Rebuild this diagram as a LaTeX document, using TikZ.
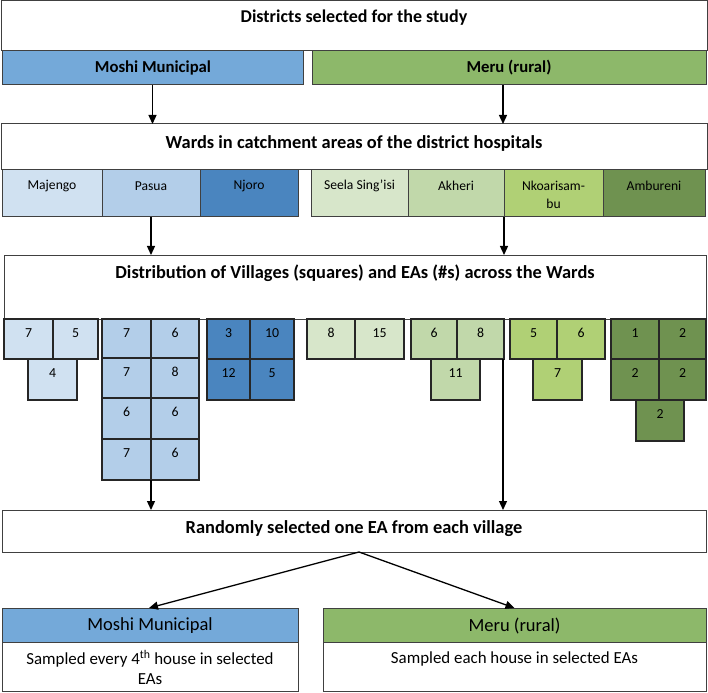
\documentclass[tikz,border=0pt]{standalone}
\usepackage{fontspec}
\setmainfont{Carlito}
\usetikzlibrary{arrows.meta}
\definecolor{mblue}{HTML}{74A9D9}
\definecolor{mgreen}{HTML}{8DB86A}
\definecolor{wmaj}{HTML}{D0E1F1}
\definecolor{wpas}{HTML}{B3CEE9}
\definecolor{wnjo}{HTML}{4A85BF}
\definecolor{wsee}{HTML}{D7E6CA}
\definecolor{wakh}{HTML}{C1D8AA}
\definecolor{wnko}{HTML}{B0D075}
\definecolor{wamb}{HTML}{6F9250}
\definecolor{bord}{HTML}{404040}
\newcommand\rbox[6]{\node[#6, minimum width={#4-#2}, minimum height={#5-#3}] (#1) at ({(#2+#4)/2},{(#3+#5)/2}) {};}
\newcommand\sq[7]{\rbox{#1}{#2}{#3}{#4}{#5}{cell,fill=#6}\node[num] (#1t) at ({(#2+#4)/2},{#3+14}) {#7};}
\begin{document}
\begin{tikzpicture}[x=1pt,y=-1pt,
  box/.style={draw=bord, line width=1pt, inner sep=0pt, outer sep=0pt},
  cell/.style={draw=black!85, line width=1.2pt, inner sep=0pt, outer sep=0pt},
  h1/.style={font=\bfseries\fontsize{18}{21}\selectfont, inner sep=0pt},
  h3/.style={font=\bfseries\fontsize{18.4}{21}\selectfont, inner sep=0pt},
  h2/.style={font=\bfseries\fontsize{16.7}{20}\selectfont, inner sep=0pt},
  h4/.style={font=\fontsize{18.5}{22}\selectfont, inner sep=0pt},
  wn/.style={font=\fontsize{13.6}{18}\selectfont, inner sep=0pt, align=center},
  num/.style={font=\fontsize{13.8}{16}\selectfont, inner sep=0pt},
  body/.style={font=\fontsize{16.9}{20}\selectfont, inner sep=0pt},
  arr/.style={-{Triangle[length=9pt,width=8pt]}, line width=1.3pt, black}]
\useasboundingbox (0,0) rectangle (708,692);
% districts
\rbox{top}{1}{1}{707}{51}{box}
\node[h1] (topt) at (354,18) {Districts selected for the study};
\rbox{dm}{2}{51}{303}{85}{box,fill=mblue}
\node[h2] (dmt) at (153,68) {Moshi Municipal};
\rbox{dr}{312}{51}{706}{85}{box,fill=mgreen}
\node[h2] (drt) at (509,68) {Meru (rural)};
% wards
\rbox{wt}{1}{124}{707}{170}{box}
\node[h3] (wtt) at (354,143) {Wards in catchment areas of the district hospitals};
\rbox{w1}{2}{170}{102}{217}{box,fill=wmaj}
\node[wn] (w1t) at (52,186) {Majengo};
\rbox{w2}{102}{170}{200}{217}{box,fill=wpas}
\node[wn] (w2t) at (151,186) {Pasua};
\rbox{w3}{200}{170}{298}{217}{box,fill=wnjo}
\node[wn] (w3t) at (249,186) {Njoro};
\rbox{w4}{311}{170}{408}{217}{box,fill=wsee}
\node[wn] (w4t) at (359.5,186) {Seela Sing’isi};
\rbox{w5}{408}{170}{504}{217}{box,fill=wakh}
\node[wn] (w5t) at (456,186) {Akheri};
\rbox{w6}{504}{170}{603}{217}{box,fill=wnko}
\node[wn] (w6t) at (553.5,195) {Nkoarisam-\\bu};
\rbox{w7}{603}{170}{705}{217}{box,fill=wamb}
\node[wn] (w7t) at (654,186) {Ambureni};
% distribution
\rbox{dist}{4}{255}{706}{319}{box}
\node[h3] (distt) at (355,273) {Distribution of Villages (squares) and EAs (\#s) across the Wards};
% squares
\sq{m1}{4}{319}{53}{359}{wmaj}{7}
\sq{m2}{53}{319}{98}{359}{wmaj}{5}
\sq{m3}{28}{359}{77}{400}{wmaj}{4}
\sq{p1}{102}{319}{151}{358}{wpas}{7}
\sq{p2}{151}{319}{199}{358}{wpas}{6}
\sq{p3}{102}{358}{151}{398}{wpas}{7}
\sq{p4}{151}{358}{199}{398}{wpas}{8}
\sq{p5}{102}{398}{151}{439}{wpas}{6}
\sq{p6}{151}{398}{199}{439}{wpas}{6}
\sq{p7}{102}{439}{151}{480}{wpas}{7}
\sq{p8}{151}{439}{199}{480}{wpas}{6}
\sq{n1}{207}{319}{250}{359}{wnjo}{3}
\sq{n2}{250}{319}{294}{359}{wnjo}{10}
\sq{n3}{207}{359}{250}{400}{wnjo}{12}
\sq{n4}{250}{359}{294}{400}{wnjo}{5}
\sq{s1}{307}{319}{355}{359}{wsee}{8}
\sq{s2}{355}{319}{404}{359}{wsee}{15}
\sq{a1}{411}{319}{457}{359}{wakh}{6}
\sq{a2}{457}{319}{504}{359}{wakh}{8}
\sq{a3}{431}{359}{480}{400}{wakh}{11}
\sq{k1}{510}{319}{557}{359}{wnko}{5}
\sq{k2}{557}{319}{605}{359}{wnko}{6}
\sq{k3}{533}{359}{582}{400}{wnko}{7}
\sq{b1}{611}{319}{659}{359}{wamb}{1}
\sq{b2}{659}{319}{706}{359}{wamb}{2}
\sq{b3}{611}{359}{659}{400}{wamb}{2}
\sq{b4}{659}{359}{706}{400}{wamb}{2}
\sq{b5}{636}{400}{684}{441}{wamb}{2}
% random
\rbox{rnd}{2}{510}{706}{552}{box}
\node[h3] (rndt) at (354,529) {Randomly selected one EA from each village};
% bottom
\rbox{bmh}{2}{608}{298}{642}{box,fill=mblue}
\node[h4] (bmht) at (150,626) {Moshi Municipal};
\rbox{bmb}{2}{642}{298}{691}{box}
\node[body] (bmb1) at (150,659) {Sampled every 4\textsuperscript{th} house in selected};
\node[body] (bmb2) at (150,679) {EAs};
\rbox{brh}{323}{608}{706}{642}{box,fill=mgreen}
\node[h4] (brht) at (514.5,626) {Meru (rural)};
\rbox{brb}{323}{642}{706}{691}{box}
\node[body] (brb1) at (514.5,659) {Sampled each house in selected EAs};
% arrows
\draw[arr] (dm.south) -- (dm.south |- wt.north);
\draw[arr] ([xshift=-6pt]dr.south) -- ([xshift=-6pt]dr.south |- wt.north);
\draw[arr] (w2.south) -- (w2.south |- dist.north);
\draw[arr] (w5.south east) -- (w5.south east |- dist.north);
\draw[arr] (p7.south east) -- (p7.south east |- rnd.north);
\draw[arr] ([xshift=-1pt]a2.south east) -- ([xshift=-1pt]a2.south east |- rnd.north);
\draw[arr] ([xshift=5pt]rnd.south) -- ([xshift=-1pt]bmh.north);
\draw[arr] ([xshift=5pt]rnd.south) -- (brh.north);
\end{tikzpicture}
\end{document}
